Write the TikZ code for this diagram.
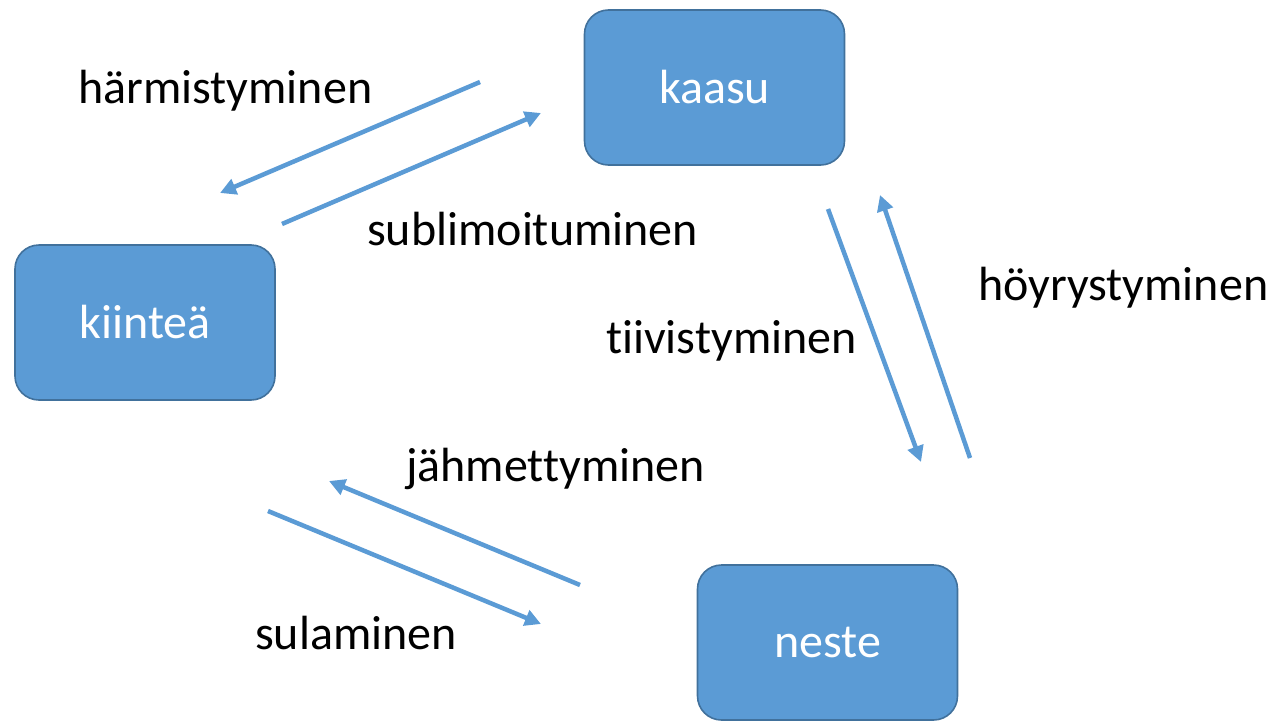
\documentclass[tikz,border=0pt]{standalone}
\usepackage{fontspec}
\setmainfont[Ligatures=NoCommon]{Carlito}
\usetikzlibrary{arrows.meta}
\definecolor{boxfill}{HTML}{5B9BD5}
\definecolor{boxline}{HTML}{41719C}
\definecolor{arrowc}{HTML}{5B9BD5}
\tikzset{
  state/.style={draw=boxline, line width=1.6pt, fill=boxfill, rounded corners=24pt,
    minimum width=260pt, minimum height=155pt, inner sep=0pt, text=white,
    font=\fontsize{48}{52}\selectfont},
  lbl/.style={inner sep=0pt, anchor=west, font=\fontsize{48}{52}\selectfont},
  conn/.style={draw=arrowc, line width=4.5pt, -{Triangle[length=16pt,width=16pt]}}
}
\begin{document}
\begin{tikzpicture}[x=1pt,y=-1pt]
\useasboundingbox (0,0) rectangle (1276,720);
\node[state] (kaasu) at (714.5,87.5) {kaasu};
\node[state] (kiintea) at (145,322.5) {kiinteä};
\node[state] (neste) at (827.5,642.5) {neste};

\node[lbl] (harm) at (78,91) {härmistyminen};
\node[lbl] (subl) at (367,229) {sublimoituminen};
\node[lbl] (hoyr) at (978,288) {höyrystyminen};
\node[lbl] (tiiv) at (606,341) {tiivistyminen};
\node[lbl] (jahm) at (406,469) {jähmettyminen};
\node[lbl] (sula) at (255,633) {sulaminen};

\coordinate (h1) at (480,82);  \coordinate (h2) at (220,193);
\coordinate (s1) at (282,224); \coordinate (s2) at (541,113);
\coordinate (t1) at (828,209); \coordinate (t2) at (921,462);
\coordinate (y1) at (970,458); \coordinate (y2) at (880,195);
\coordinate (j1) at (580,585); \coordinate (j2) at (329,481);
\coordinate (u1) at (268,511); \coordinate (u2) at (541,624);

\draw[conn] (h1) -- (h2);
\draw[conn] (s1) -- (s2);
\draw[conn] (t1) -- (t2);
\draw[conn] (y1) -- (y2);
\draw[conn] (j1) -- (j2);
\draw[conn] (u1) -- (u2);
\end{tikzpicture}
\end{document}
